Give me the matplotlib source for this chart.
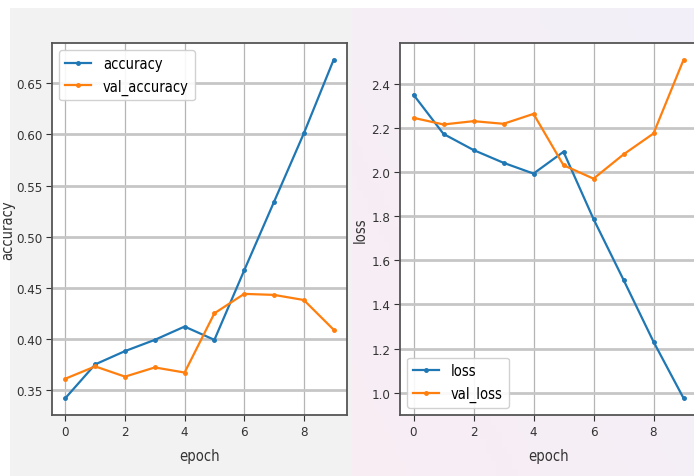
import numpy as np
import matplotlib
matplotlib.use("Agg")
import matplotlib.pyplot as plt
from matplotlib import font_manager

epochs = list(range(10))
accuracy = [0.342, 0.375, 0.388, 0.399, 0.412, 0.399, 0.467, 0.534, 0.601, 0.673]
val_accuracy = [0.361, 0.373, 0.363, 0.372, 0.367, 0.425, 0.444, 0.443, 0.438, 0.409]
loss = [2.352, 2.174, 2.101, 2.043, 1.994, 2.093, 1.788, 1.512, 1.231, 0.975]
val_loss = [2.247, 2.217, 2.232, 2.220, 2.265, 2.032, 1.971, 2.081, 2.176, 2.510]

# look for a condensed face among the installed fonts
cond = [f for f in font_manager.fontManager.ttflist
        if 'Condensed' in f.fname and 'Bold' not in f.fname and 'Oblique' not in f.fname]
if cond:
    fp = font_manager.FontProperties(fname=cond[0].fname)
else:
    fp = font_manager.FontProperties(family='DejaVu Sans')

W, H = 694, 477
fig = plt.figure(figsize=(W / 100, H / 100), dpi=100, facecolor='white')

# panel backgrounds (screenshot look)
bg = fig.add_axes([0, 0, 1, 1], zorder=-10)
bg.set_xlim(0, W)
bg.set_ylim(H, 0)
bg.axis('off')
bg.add_patch(plt.Rectangle((10, 9), 342, 468, color='#f2f2f2', lw=0))
grad = np.linspace(0, 1, 64)
gx, gy = np.meshgrid(grad, grad)
c1 = np.array([0.975, 0.93, 0.955])
c2 = np.array([0.95, 0.94, 0.975])
t = (gx * 0.6 + (1 - gy) * 0.4)[..., None]
bg.imshow(c1 * (1 - t) + c2 * t, extent=(352, W, H, 9), aspect='auto', zorder=0)


def px_axes(x0, y0, x1, y1):
    return fig.add_axes([x0 / W, 1 - y1 / H, (x1 - x0) / W, (y1 - y0) / H])


def font(size):
    p = fp.copy()
    p.set_size(size)
    return p


def style(ax, yticks, ylabel, lab_x):
    ax.set_facecolor('white')
    ax.grid(True, axis='y', color='#c6c6c6', lw=2.0)
    ax.grid(True, axis='x', color='#b5b5b5', lw=0.9)
    ax.set_axisbelow(True)
    for s in ax.spines.values():
        s.set_color('#555555')
        s.set_linewidth(1.3)
    ax.tick_params(colors='#333333', length=4, pad=3)
    ax.set_xticks([0, 2, 4, 6, 8])
    ax.set_yticks(yticks)
    for lbl in ax.get_xticklabels() + ax.get_yticklabels():
        lbl.set_fontproperties(font(9.5))
    ax.set_xlabel('epoch', fontproperties=font(10.5), color='#333333')
    ax.set_ylabel(ylabel, fontproperties=font(10.5), color='#333333')
    ax.yaxis.set_label_coords(lab_x, 0.5)
    ax.xaxis.set_label_coords(0.5, -0.09)


ax1 = px_axes(52, 44, 347, 416)
ax1.plot(epochs, accuracy, marker='.', ms=5, lw=1.6, label='accuracy')
ax1.plot(epochs, val_accuracy, marker='.', ms=5, lw=1.6, label='val_accuracy')
style(ax1, [0.35, 0.40, 0.45, 0.50, 0.55, 0.60, 0.65], 'accuracy', -0.125)
ax1.legend(loc='upper left', prop=font(10.5), framealpha=0.9, handlelength=1.8)

ax2 = px_axes(400, 44, 697, 416)
ax2.plot(epochs, loss, marker='.', ms=5, lw=1.6, label='loss')
ax2.plot(epochs, val_loss, marker='.', ms=5, lw=1.6, label='val_loss')
style(ax2, [1.0, 1.2, 1.4, 1.6, 1.8, 2.0, 2.2, 2.4], 'loss', -0.11)
ax2.legend(loc='lower left', prop=font(10.5), framealpha=0.9, handlelength=1.8)

fig.savefig('out.png', dpi=100, facecolor='white')
